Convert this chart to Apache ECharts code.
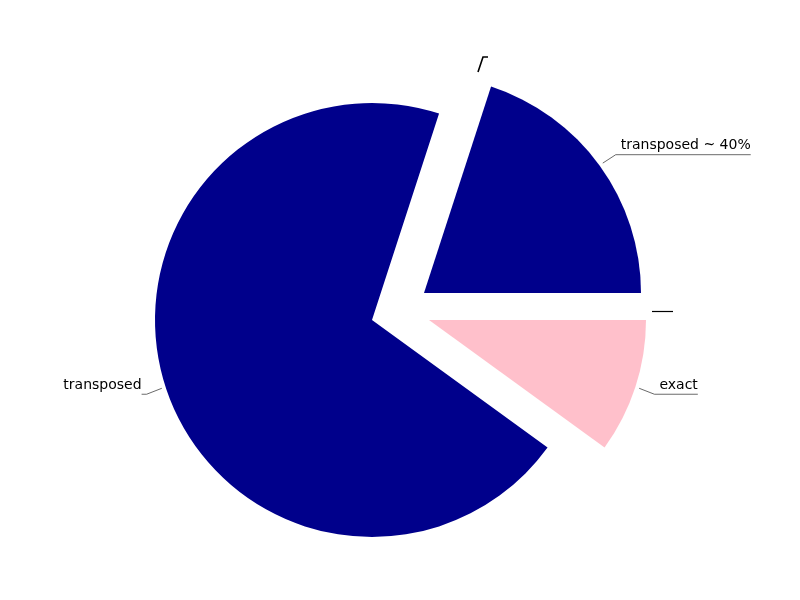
<!DOCTYPE html>
<html>
<head>
<meta charset="utf-8">
<script src="https://cdn.jsdelivr.net/npm/echarts@6/dist/echarts.min.js"></script>
<style>html,body{margin:0;padding:0;background:#fff;}#main{width:800px;height:600px;}</style>
</head>
<body>
<div id="main"></div>
<script>
// ---- data ----
const categories = ['transposed ~ 40%', 'transposed', 'exact'];
const values = [20, 70, 10];
const sliceColors = ['#00008b', '#00008b', '#ffc0cb'];

// ---- layout (each slice drawn from its own exploded centre) ----
const sliceCenters = [[424, 293], [372, 320], [429, 320]];
const pieRadius = 217;

const chart = echarts.init(document.getElementById('main'), null, {renderer: 'canvas'});

function labelLayoutFn(params) {
  const pts = params.labelLinePoints;
  if (!pts) return {};
  const isLeft = pts[2][0] < pts[1][0];
  // small gap between slice edge and line start
  const vx = pts[1][0] - pts[0][0], vy = pts[1][1] - pts[0][1];
  const vl = Math.sqrt(vx * vx + vy * vy) || 1;
  pts[0][0] += vx / vl * 4;
  pts[0][1] += vy / vl * 4;
  pts[1][1] += 1;
  pts[2][1] += 1;
  pts[2][0] = isLeft ? params.labelRect.x : params.labelRect.x + params.labelRect.width;
  return { labelLinePoints: pts, dy: -8 };
}

const series = categories.map(function (_, si) {
  return {
    type: 'pie',
    center: sliceCenters[si],
    radius: pieRadius,
    startAngle: 0,
    clockwise: false,
    avoidLabelOverlap: false,
    animation: false,
    silent: true,
    labelLayout: labelLayoutFn,
    data: categories.map(function (name, i) {
      const visible = i === si;
      return {
        name: name,
        value: values[i],
        itemStyle: { color: visible ? sliceColors[i] : 'rgba(0,0,0,0)' },
        label: {
          show: visible,
          position: 'outside',
          color: '#000',
          fontFamily: 'DejaVu Sans',
          fontSize: 14,
          distanceToLabelLine: 5
        },
        labelLine: {
          show: visible,
          length: 20,
          length2: 0,
          lineStyle: { color: '#444', width: 0.8 }
        }
      };
    })
  };
});

chart.setOption({
  backgroundColor: '#ffffff',
  animation: false,
  series: series,
  graphic: [
    { type: 'polyline', shape: { points: [[478, 72], [483, 57], [488, 57]] }, style: { stroke: '#000', lineWidth: 1.6, fill: null } },
    { type: 'line', shape: { x1: 652, y1: 311.5, x2: 673, y2: 311.5 }, style: { stroke: '#000', lineWidth: 1.2 } }
  ]
});
</script>
</body>
</html>
